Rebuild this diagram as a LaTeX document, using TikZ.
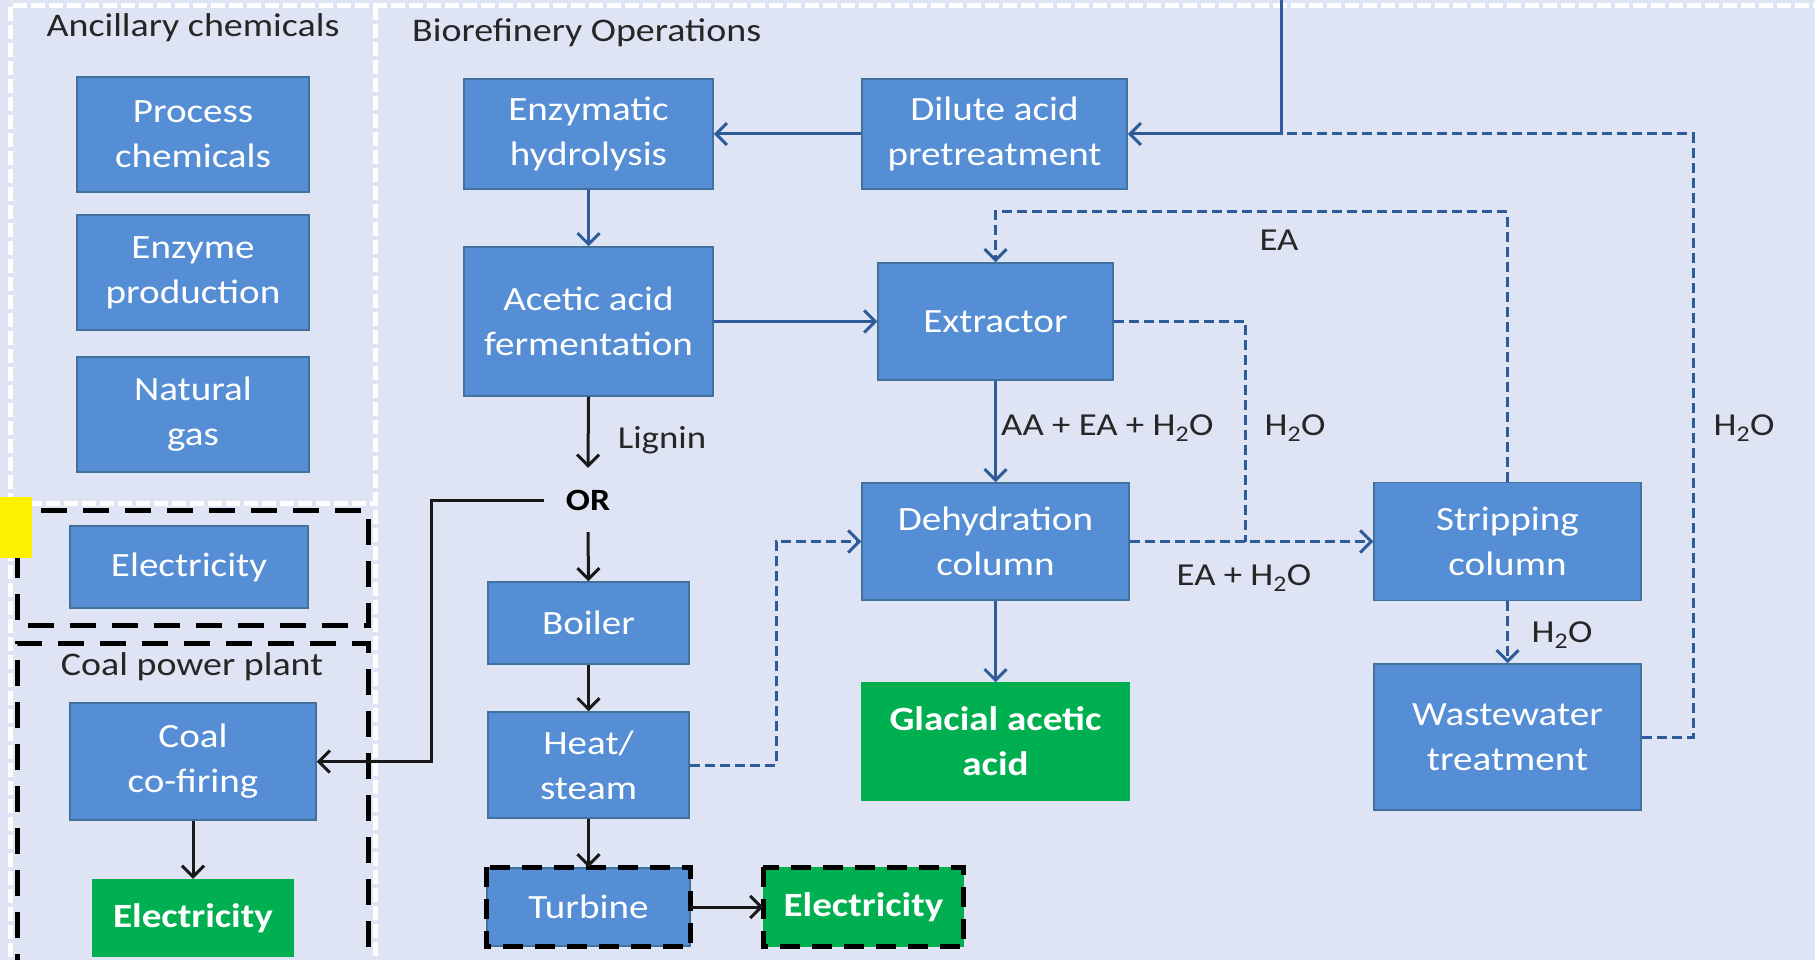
\documentclass[tikz,border=0pt]{standalone}
\usepackage{fontspec}
\setmainfont{Carlito}[FakeStretch=1.15]
\usetikzlibrary{arrows.meta}
\definecolor{bg}{HTML}{DEE4F3}
\definecolor{boxblue}{HTML}{558ED5}
\definecolor{boxedge}{HTML}{41719C}
\definecolor{grn}{HTML}{00B050}
\definecolor{flow}{HTML}{2E5C9A}
\definecolor{txt}{HTML}{262626}
\definecolor{dashgrey}{HTML}{C8CFDD}
\tikzset{
  blk/.style={rectangle, draw=boxedge, line width=1.5pt, fill=boxblue, text=white,
    align=center, inner sep=0pt, font=\fontsize{34}{45}\selectfont},
  gblk/.style={blk, draw=grn, fill=grn, font=\fontsize{34}{45}\selectfont\bfseries},
  blkdash/.style={draw=black, line width=5pt, dash pattern=on 26pt off 16pt},
  blkdashs/.style={draw=black, line width=5pt, dash pattern=on 20pt off 12pt},
  panelline/.style={draw=white, line width=5pt, dash pattern=on 14pt off 4pt},
  title/.style={text=txt, font=\fontsize{33}{38}\selectfont, inner sep=0pt},
  lbl/.style={text=txt, font=\fontsize{32}{36}\selectfont, inner sep=0pt},
  tip/.style={-{Straight Barb[length=11pt,width=22pt]}},
  fl/.style={draw=flow, line width=3pt, tip},
  fld/.style={fl, dash pattern=on 10pt off 5pt},
  fldn/.style={draw=flow, line width=3pt, dash pattern=on 10pt off 5pt},
  bk/.style={draw=black!90, line width=3pt, tip},
}
\begin{document}
\begin{tikzpicture}[x=1pt, y=-1pt]
\useasboundingbox (0,0) rectangle (1815,960);
\clip (0,0) rectangle (1815,960);
\fill[bg] (0,0) rectangle (1815,960);
% panel borders
\draw[panelline] (10,975) -- (10,6) -- (1820,6);
\draw[panelline] (375,6) -- (375,975);
\draw[panelline] (10,503) -- (375,503);
% black dashed groups
\draw[blkdash] (17,510) rectangle (368,625);
\draw[blkdash] (17,980) -- (17,643) -- (368,643) -- (368,980);
% yellow mark
\fill[yellow] (0,497) rectangle (32,558);
% titles
\node[title] (tAnc) at (193,28) {Ancillary chemicals};
\node[title, anchor=west] (tBio) at (412,33) {Biorefinery Operations};
\node[title] (tCoal) at (192,667) {Coal power plant};
% left column
\node[blk, minimum width=232pt, minimum height=115pt] (proc) at (193,134.5) {Process\\chemicals};
\node[blk, minimum width=232pt, minimum height=115pt] (enzp) at (193,272.5) {Enzyme\\production};
\node[blk, minimum width=232pt, minimum height=115pt] (ngas) at (193,414.5) {Natural\\gas};
\node[blk, minimum width=238pt, minimum height=82pt] (elecA) at (189,567) {Electricity};
\node[blk, minimum width=246pt, minimum height=117pt] (coal) at (193,761.5) {Coal\\co-firing};
\node[gblk, minimum width=200pt, minimum height=77pt] (elecB) at (193,918) {Electricity};
% biorefinery
\node[blk, minimum width=249pt, minimum height=110pt] (enzh) at (588.5,134) {Enzymatic\\hydrolysis};
\node[blk, minimum width=265pt, minimum height=110pt] (dil) at (994.5,134) {Dilute acid\\pretreatment};
\node[blk, minimum width=249pt, minimum height=149pt] (acet) at (588.5,321.5) {Acetic acid\\fermentation};
\node[blk, minimum width=235pt, minimum height=117pt] (extr) at (995.5,321.5) {Extractor};
\node[blk, minimum width=267pt, minimum height=117pt] (dehy) at (995.5,541.5) {Dehydration\\column};
\node[gblk, minimum width=267pt, minimum height=117pt] (glac) at (995.5,741.5) {Glacial acetic\\acid};
\node[blk, minimum width=267pt, minimum height=118pt] (strip) at (1507.5,541.5) {Stripping\\column};
\node[blk, minimum width=267pt, minimum height=146pt] (waste) at (1507.5,737) {Wastewater\\treatment};
\node[blk, minimum width=201pt, minimum height=82pt] (boil) at (588.5,623) {Boiler};
\node[blk, minimum width=201pt, minimum height=106pt] (heat) at (588.5,765) {Heat/\\steam};
\node[blk, minimum width=203pt, minimum height=78pt] (turb) at (588.5,907) {Turbine};
\node[gblk, minimum width=199pt, minimum height=78pt] (elecC) at (863.5,907) {Electricity};
\draw[blkdashs] (turb.north west) rectangle (turb.south east);
\draw[blkdashs] (elecC.north west) rectangle (elecC.south east);
\node[text=black, font=\fontsize{31}{34}\selectfont\bfseries, inner sep=0pt,
      minimum width=88pt, minimum height=64pt] (orn) at (588,500) {OR};
% labels
\node[lbl] (lLig) at (662,440) {Lignin};
\node[lbl, anchor=west] (lAA) at (1001,428) {AA + EA + H\textsubscript{2}O};
\node[lbl] (lH1) at (1295,428) {H\textsubscript{2}O};
\node[lbl] (lH2) at (1744,428) {H\textsubscript{2}O};
\node[lbl] (lEA) at (1279,240) {EA};
\node[lbl] (lEAH) at (1244,578) {EA + H\textsubscript{2}O};
\node[lbl] (lH3) at (1562,635) {H\textsubscript{2}O};
% coordinates
\coordinate (top) at (1281,0);
\coordinate (j1) at (1245,321.5);
\coordinate (ea) at (1507.5,212);
\coordinate (w1) at (1693,737);
\coordinate (h1) at (776,765);
\coordinate (o1) at (431,500);
% blue connectors
\draw[fl] (top) -- (top |- dil.east) -- (dil.east);
\draw[fldn] (waste.east) -- (w1) -- (w1 |- dil.east) -- (top |- dil.east);
\draw[fl] (dil.west) -- (enzh.east);
\draw[fl] (enzh.south) -- (acet.north);
\draw[fl] (acet.east) -- (extr.west);
\draw[fl] (extr.south) -- (dehy.north);
\draw[fl] (dehy.south) -- (glac.north);
\draw[fld] (dehy.east) -- (strip.west);
\draw[fldn] (extr.east) -- (j1) -- (j1 |- dehy.east);
\draw[fld] (strip.north) -- (ea) -- (ea -| extr.north) -- (extr.north);
\draw[fld] (strip.south) -- (waste.north);
\draw[fld] (heat.east) -- (h1) -- (h1 |- dehy.west) -- (dehy.west);
% black connectors
\draw[bk] (acet.south) -- (orn.north);
\draw[bk] (orn.south) -- (boil.north);
\draw[bk] (orn.west) -- (o1) -- (o1 |- coal.east) -- (coal.east);
\draw[bk] (boil.south) -- (heat.north);
\draw[bk] (heat.south) -- (turb.north);
\draw[bk] (turb.east) -- (elecC.west);
\draw[bk] (coal.south) -- (elecB.north);
\end{tikzpicture}
\end{document}
